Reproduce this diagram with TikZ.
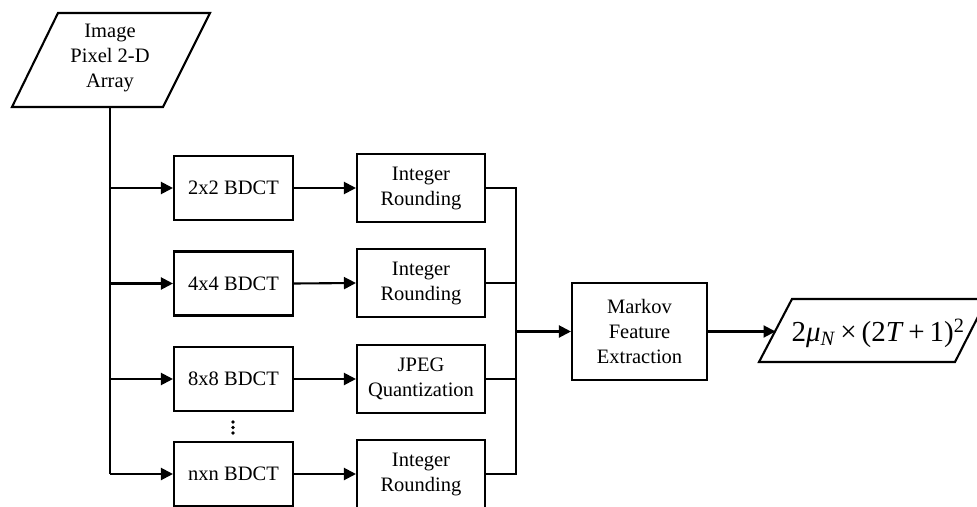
\documentclass[tikz,border=0pt]{standalone}
\usepackage{fontspec}
\setmainfont{Liberation Serif}
\usetikzlibrary{arrows.meta}
\begin{document}
\begin{tikzpicture}[x=1pt,y=-1pt,
  line width=2.1pt,
  lbl/.style={font=\fontsize{20.5}{25}\selectfont, align=center, inner sep=0pt},
  blk/.style={draw, line width=2.1pt, minimum width=119pt, minimum height=64pt, lbl},
  rblk/.style={blk, minimum width=128pt, minimum height=68pt},
  arr/.style={-{Triangle[length=12pt,width=12pt]}},
]
\useasboundingbox (0,0) rectangle (977,506);
\clip (0,0) rectangle (977,506);

% input parallelogram
\coordinate (i1) at (58,13);
\coordinate (i2) at (210,13);
\coordinate (i3) at (163,107);
\coordinate (i4) at (12,107);
\draw (i1) -- (i2) -- (i3) -- (i4) -- cycle;
\node[lbl] (in) at (110,58) {Image\\Pixel 2-D\\Array};
\coordinate (inb) at (110,107);

% BDCT blocks
\node[blk] (b1) at (233.5,188) {2x2 BDCT};
\node[blk] (b2) at (233.5,283.5) {4x4 BDCT};
\node[blk] (b3) at (233.5,379) {8x8 BDCT};
\node[blk] (b4) at (233.5,474) {nxn BDCT};

% dots
\fill (233,422) circle (1.8pt);
\fill (233,427.5) circle (1.8pt);
\fill (233,433) circle (1.8pt);

% second stage
\node[rblk] (r1) at (421,188) {Integer\\Rounding};
\node[rblk] (r2) at (421,283) {Integer\\Rounding};
\node[rblk] (r3) at (421,379) {JPEG\\Quantization};
\node[rblk] (r4) at (421,474) {Integer\\Rounding};

% Markov
\node[blk, minimum width=135pt, minimum height=97pt] (mk) at (639.5,331.5) {Markov\\Feature\\Extraction};

% output parallelogram
\coordinate (o1) at (792,299);
\coordinate (o2) at (987,299);
\coordinate (o3) at (955,362);
\coordinate (o4) at (759,362);
\draw (o1) -- (o2) -- (o3) -- (o4) -- cycle;
\node[inner sep=0pt, font=\fontsize{29}{32}\selectfont] (out) at (878,333)
  {2\textit{μ}\textsubscript{\textit{N}}\,×\,(2\textit{T}\,+\,1)\textsuperscript{2}};
\coordinate (oin) at (775.5,331.5);

% trunk
\draw (inb) -- (inb |- b4.west);
\foreach \b in {b1,b2,b3,b4} \draw[arr] (inb |- \b.west) -- (\b.west);
\draw[arr] (b1.east) -- (r1.west);
\draw[arr] (b2.east) -- (r2.west);
\draw[arr] (b3.east) -- (r3.west);
\draw[arr] (b4.east) -- (r4.west);

% bus
\coordinate (bus) at (516,0);
\draw (r1.east) -- (bus |- r1.east) -- (bus |- r4.east) -- (r4.east);
\draw (r2.east) -- (bus |- r2.east);
\draw (r3.east) -- (bus |- r3.east);
\draw[arr] (bus |- mk.west) -- (mk.west);
\draw[arr] (mk.east) -- (oin);
\end{tikzpicture}
\end{document}
